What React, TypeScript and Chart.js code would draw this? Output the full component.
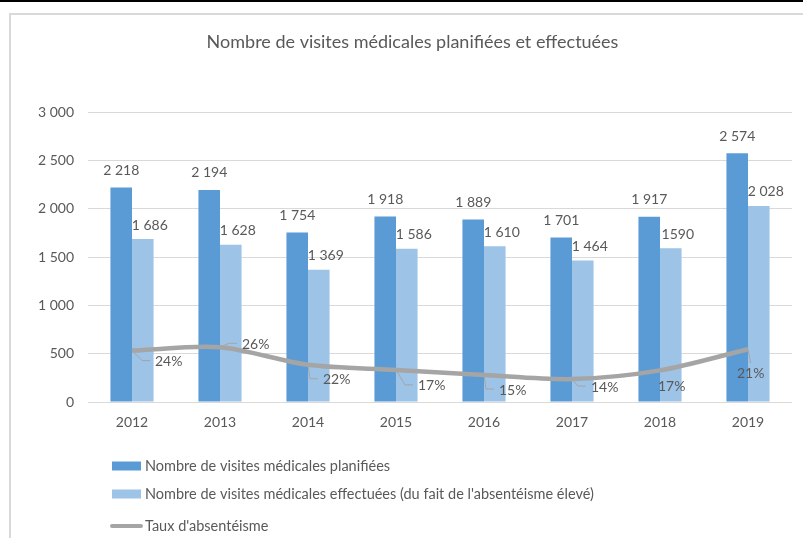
import React, { useEffect, useRef } from 'react';
import { Chart, registerables } from 'chart.js';

Chart.register(...registerables);

// ---- Data ----
const years = ['2012', '2013', '2014', '2015', '2016', '2017', '2018', '2019'];
const planned = [2218, 2194, 1754, 1918, 1889, 1701, 1917, 2574];
const done = [1686, 1628, 1369, 1586, 1610, 1464, 1590, 2028];
const plannedLabels = ['2 218', '2 194', '1 754', '1 918', '1 889', '1 701', '1 917', '2 574'];
const doneLabels = ['1 686', '1 628', '1 369', '1 586', '1 610', '1 464', '1590', '2 028'];
// line drawn on the primary axis (gap planned - done), labelled with the rate
const absenceGap = [532, 566, 385, 332, 279, 237, 327, 546];
const absenceRate = ['24%', '26%', '22%', '17%', '15%', '14%', '17%', '21%'];

const TITLE = 'Nombre de visites médicales planifiées et effectuées';
const SERIES_NAMES = [
  'Nombre de visites médicales planifiées',
  "Nombre de visites médicales effectuées (du fait de l'absentéisme élevé)",
  "Taux d'absentéisme",
];

// ---- Styles ----
const FONT = 'Lato';
const TEXT = '#595959';
const DARK = '#5B9BD5';
const LIGHT = '#9DC3E6';
const GREY = '#A5A5A5';
const GRID = '#D9D9D9';

// label placement for the rate labels (offset of label left/middle from the point)
const rateOffsets: [number, number][] = [
  [23, 11], [22, -3], [15, 15], [22, 16], [15, 15], [19, 8], [-2, 16], [-11, 24],
];
const rateLeaders = ['elbow', 'elbow', 'elbow', 'elbow', 'elbow', 'elbow', 'none', 'down'];

const fmt = (v: number) => String(v).replace(/\B(?=(\d{3})+(?!\d))/g, ' ');

const labelsPlugin = {
  id: 'valueLabels',
  afterDatasetsDraw(chart: any) {
    const ctx = chart.ctx;
    ctx.save();
    ctx.font = `14px ${FONT}`;
    ctx.fillStyle = TEXT;
    ctx.textBaseline = 'middle';
    ctx.textAlign = 'center';
    chart.getDatasetMeta(0).data.forEach((el: any, i: number) => {
      ctx.fillText(plannedLabels[i], el.x, el.y - 17);
    });
    chart.getDatasetMeta(1).data.forEach((el: any, i: number) => {
      ctx.fillText(doneLabels[i], el.x + 7, el.y - 14);
    });
    ctx.textAlign = 'left';
    chart.getDatasetMeta(2).data.forEach((el: any, i: number) => {
      const [dx, dy] = rateOffsets[i];
      const lx = el.x + dx;
      const ly = el.y + dy;
      const text = absenceRate[i];
      const w = ctx.measureText(text).width;
      ctx.strokeStyle = GREY;
      ctx.lineWidth = 1;
      if (rateLeaders[i] === 'elbow') {
        ctx.beginPath();
        ctx.moveTo(el.x, el.y);
        ctx.lineTo(lx - 13, ly - 1);
        ctx.lineTo(lx - 5, ly - 1);
        ctx.stroke();
      } else if (rateLeaders[i] === 'down') {
        ctx.beginPath();
        ctx.moveTo(el.x, el.y);
        ctx.lineTo(lx + w / 2, ly - 10);
        ctx.stroke();
      }
      ctx.fillText(text, lx, ly);
    });
    ctx.restore();
  },
};

const legendPlugin = {
  id: 'customLegend',
  afterDraw(chart: any) {
    const ctx = chart.ctx;
    ctx.save();
    ctx.font = `14.5px ${FONT}`;
    ctx.fillStyle = TEXT;
    ctx.textBaseline = 'middle';
    ctx.textAlign = 'left';
    const rows = [466, 494, 526];
    chart.data.datasets.forEach((ds: any, i: number) => {
      const y = rows[i];
      if (ds.type === 'line') {
        ctx.strokeStyle = ds.borderColor;
        ctx.lineWidth = 4;
        ctx.lineCap = 'round';
        ctx.beginPath();
        ctx.moveTo(112, y);
        ctx.lineTo(141, y);
        ctx.stroke();
      } else {
        ctx.fillStyle = ds.backgroundColor;
        ctx.fillRect(112, y - 4.5, 29, 9);
      }
      ctx.fillStyle = TEXT;
      ctx.fillText(ds.label, 145, y);
    });
    ctx.restore();
  },
};

export default function App() {
  const ref = useRef<HTMLCanvasElement>(null);

  useEffect(() => {
    if (!ref.current) return;
    const chart = new Chart(ref.current, {
      type: 'bar',
      data: {
        labels: years,
        datasets: [
          {
            type: 'bar',
            label: SERIES_NAMES[0],
            data: planned,
            backgroundColor: DARK,
            categoryPercentage: 0.49,
            barPercentage: 1,
            order: 2,
          },
          {
            type: 'bar',
            label: SERIES_NAMES[1],
            data: done,
            backgroundColor: LIGHT,
            categoryPercentage: 0.49,
            barPercentage: 1,
            order: 3,
          },
          {
            type: 'line',
            label: SERIES_NAMES[2],
            data: absenceGap,
            borderColor: GREY,
            backgroundColor: GREY,
            borderWidth: 4.5,
            pointRadius: 0,
            tension: 0.3,
            fill: false,
            order: 1,
          },
        ] as any,
      },
      options: {
        animation: false,
        responsive: false,
        maintainAspectRatio: false,
        layout: { padding: { left: 33, right: 11, top: 0, bottom: 106 } },
        plugins: {
          legend: { display: false },
          tooltip: { enabled: false },
          title: {
            display: true,
            text: TITLE,
            color: TEXT,
            font: { family: FONT, size: 18, weight: 'normal', lineHeight: 1.2 },
            padding: { top: 31.2, bottom: 59.2 },
          },
        },
        scales: {
          x: {
            grid: { display: false, drawTicks: false },
            border: { display: false },
            ticks: { color: TEXT, font: { family: FONT, size: 14 }, padding: 12 },
            afterFit: (s: any) => { s.height = 30; },
          },
          y: {
            min: 0,
            max: 3000,
            grid: { color: GRID, lineWidth: 1, drawTicks: false },
            border: { display: false },
            ticks: {
              stepSize: 500,
              color: TEXT,
              font: { family: FONT, size: 14 },
              padding: 14,
              callback: (v: any) => fmt(Number(v)),
            },
            afterFit: (s: any) => { s.width = 55; },
          },
        },
      } as any,
      plugins: [labelsPlugin, legendPlugin],
    });
    return () => chart.destroy();
  }, []);

  return (
    <div
      style={{
        position: 'fixed',
        left: 0,
        top: 0,
        width: 803,
        height: 538,
        overflow: 'hidden',
        background: '#fff',
      }}
    >
      <canvas ref={ref} width={803} height={538} style={{ position: 'absolute', left: 0, top: 0 }} />
      <div style={{ position: 'absolute', left: 0, top: 0, width: 803, height: 2, background: '#000' }} />
      <div
        style={{
          position: 'absolute',
          left: 9,
          top: 13,
          width: 900,
          height: 700,
          border: '2px solid #D9D9D9',
          pointerEvents: 'none',
        }}
      />
    </div>
  );
}
